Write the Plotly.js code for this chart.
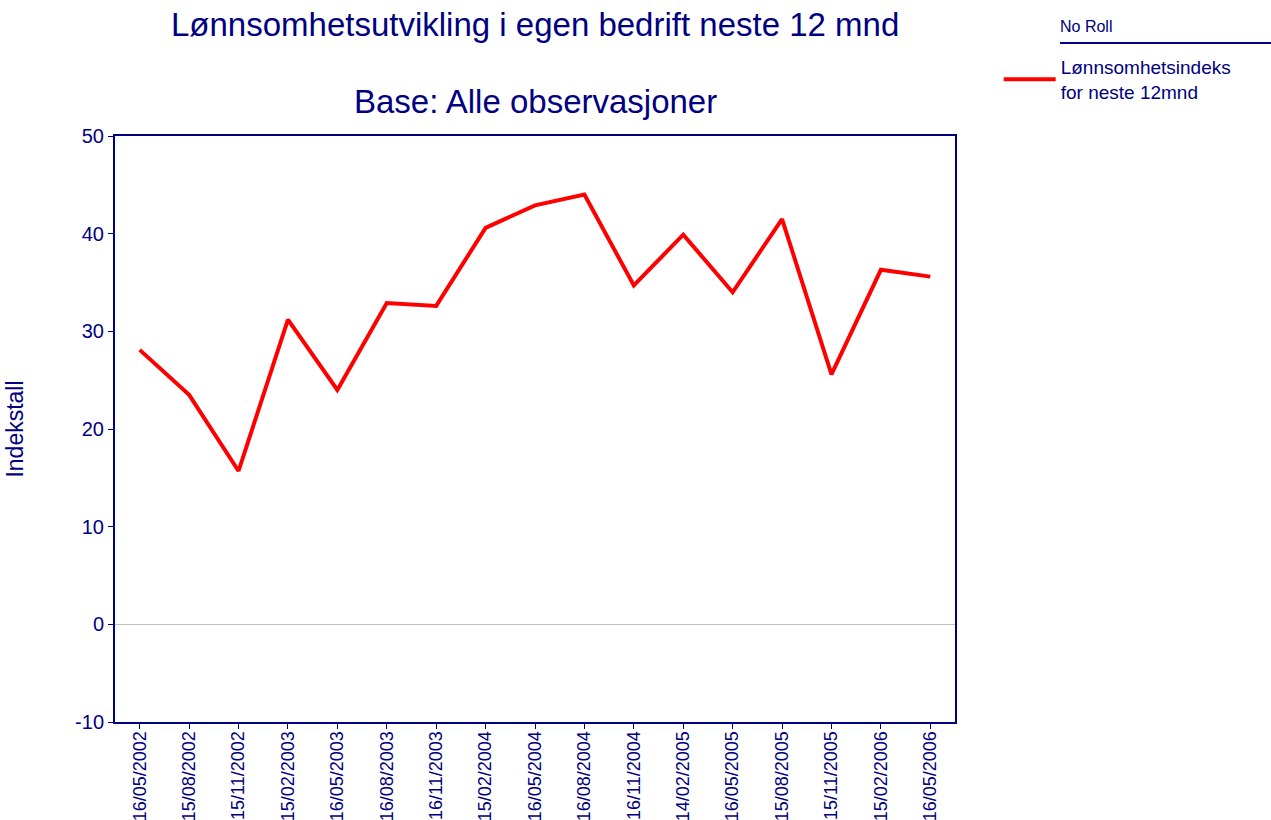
<!DOCTYPE html>
<html>
<head>
<meta charset="utf-8">
<script src="https://cdn.plot.ly/plotly-3.0.1.min.js"></script>
<style>html,body{margin:0;padding:0;background:#fff;}#chart{width:1271px;height:820px;}</style>
</head>
<body>
<div id="chart"></div>
<script>
const dates = ["16/05/2002","15/08/2002","15/11/2002","15/02/2003","16/05/2003","16/08/2003","16/11/2003","15/02/2004","16/05/2004","16/08/2004","16/11/2004","14/02/2005","16/05/2005","15/08/2005","15/11/2005","15/02/2006","16/05/2006"];
const indeks = [28.1, 23.5, 15.7, 31.2, 24.0, 32.9, 32.6, 40.6, 42.9, 44.0, 34.7, 39.9, 34.0, 41.5, 25.6, 36.3, 35.6];
const seriesName = "Lønnsomhetsindeks<br>for neste 12mnd";
const yTicks = [-10, 0, 10, 20, 30, 40, 50];
const yTickText = ["-10", "0", "10", "20", "30", "40", "50"];

const navy = "#000080";
const font = "Liberation Sans, Arial, sans-serif";

const trace = {
  x: dates,
  y: indeks,
  type: "scatter",
  mode: "lines",
  name: seriesName,
  line: {color: "#ff0000", width: 4},
  hoverinfo: "x+y"
};

const layout = {
  width: 1271, height: 820,
  margin: {l: 115, r: 316, t: 136, b: 98},
  paper_bgcolor: "#ffffff",
  plot_bgcolor: "#ffffff",
  font: {family: font, color: navy},
  showlegend: true,
  legend: {
    x: 1.052, y: 1.15, xanchor: "left", yanchor: "top",
    itemwidth: 52,
    font: {family: font, size: 19, color: navy},
    bgcolor: "rgba(0,0,0,0)",
    tracegroupgap: 0
  },
  xaxis: {
    type: "category",
    range: [-0.5, 16.5],
    tickangle: -90,
    ticks: "outside", ticklen: 5, tickcolor: navy, tickwidth: 1,
    ticklabelstandoff: -5,
    tickfont: {family: font, size: 18, color: navy},
    showline: true, linecolor: navy, linewidth: 2, mirror: true,
    showgrid: false, zeroline: false,
    fixedrange: true
  },
  yaxis: {
    range: [-10, 50],
    tickvals: yTicks,
    ticktext: yTickText,
    ticks: "outside", ticklen: 5, tickcolor: navy, tickwidth: 1,
    tickfont: {family: font, size: 20, color: navy},
    showline: true, linecolor: navy, linewidth: 2, mirror: true,
    showgrid: false,
    zeroline: true, zerolinecolor: "#c0c0c0", zerolinewidth: 1.5,
    title: {text: "Indekstall", font: {family: font, size: 23, color: navy}, standoff: 45},
    fixedrange: true
  },
  annotations: [
    {text: "Lønnsomhetsutvikling i egen bedrift neste 12 mnd", xref: "paper", yref: "paper",
     x: 0.5, y: (722-25)/586, xanchor: "center", yanchor: "middle", showarrow: false,
     font: {family: font, size: 33, color: navy}},
    {text: "Base: Alle observasjoner", xref: "paper", yref: "paper",
     x: 0.5, y: (722-101)/586, xanchor: "center", yanchor: "middle", showarrow: false,
     font: {family: font, size: 33, color: navy}},
    {text: "No Roll", xref: "paper", yref: "paper",
     x: (1058-115)/840, y: (722-26)/586, xanchor: "left", yanchor: "middle", showarrow: false,
     font: {family: font, size: 16, color: navy}}
  ],
  shapes: [
    {type: "line", xref: "paper", yref: "paper",
     x0: (1060-115)/840, x1: (1271-115)/840, y0: (722-43)/586, y1: (722-43)/586,
     line: {color: navy, width: 2}}
  ]
};

Plotly.newPlot("chart", [trace], layout, {displayModeBar: false, staticPlot: true});
</script>
</body>
</html>
